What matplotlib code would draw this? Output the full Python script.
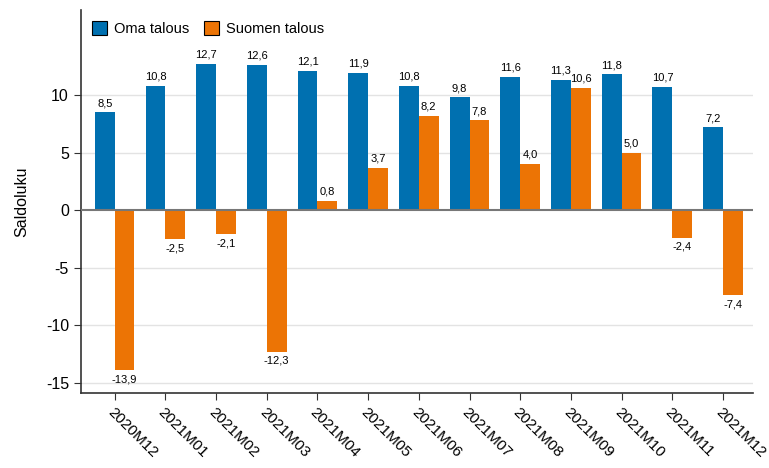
import matplotlib.pyplot as plt
import numpy as np

plt.rcParams['font.family'] = ['Liberation Sans', 'DejaVu Sans']
plt.rcParams['axes.unicode_minus'] = False

months = ['2020M12', '2021M01', '2021M02', '2021M03', '2021M04', '2021M05', '2021M06',
          '2021M07', '2021M08', '2021M09', '2021M10', '2021M11', '2021M12']
oma_talous = [8.5, 10.8, 12.7, 12.6, 12.1, 11.9, 10.8, 9.8, 11.6, 11.3, 11.8, 10.7, 7.2]
suomen_talous = [-13.9, -2.5, -2.1, -12.3, 0.8, 3.7, 8.2, 7.8, 4.0, 10.6, 5.0, -2.4, -7.4]

blue = '#0070b0'
orange = '#ec7405'

fig = plt.figure(figsize=(7.69, 4.68), dpi=100)
ax = fig.add_axes([0.105, 0.16, 0.874, 0.819])

x = np.arange(len(months))
w = 0.39
b1 = ax.bar(x - w / 2, oma_talous, w, color=blue, label='Oma talous', zorder=3)
b2 = ax.bar(x + w / 2, suomen_talous, w, color=orange, label='Suomen talous', zorder=3)


def fmt(v):
    return f'{v:.1f}'.replace('.', ',')


for bars, vals in [(b1, oma_talous), (b2, suomen_talous)]:
    for bar, v in zip(bars, vals):
        cx = bar.get_x() + bar.get_width() / 2
        if v >= 0:
            ax.annotate(fmt(v), (cx, v), xytext=(0, 3), textcoords='offset points',
                        ha='center', va='bottom', fontsize=8, zorder=4)
        else:
            ax.annotate(fmt(v), (cx, v), xytext=(0, -3), textcoords='offset points',
                        ha='center', va='top', fontsize=8, zorder=4)

ax.set_xlim(-0.67, 12.59)
ax.set_ylim(-15.9, 17.4)
ax.set_yticks([-15, -10, -5, 0, 5, 10])
ax.set_xticks(x)
ax.set_xticklabels(months, rotation=-45, ha='left', va='top', rotation_mode='anchor', fontsize=11)
ax.tick_params(axis='y', labelsize=11.5, length=5, color='#333333')
ax.tick_params(axis='x', length=5, color='#333333', pad=4)

for yv in [-15, -10, -5, 5, 10]:
    ax.axhline(yv, color='#e3e3e3', lw=1, zorder=1)
ax.axhline(0, color='#777777', lw=1.5, zorder=4)

for s in ['top', 'right']:
    ax.spines[s].set_visible(False)
for s in ['left', 'bottom']:
    ax.spines[s].set_color('#333333')
    ax.spines[s].set_linewidth(1.2)

ax.set_ylabel('Saldoluku', fontsize=11.5, labelpad=12)

leg = ax.legend(loc='upper left', ncol=2, frameon=False, fontsize=10.5,
                handlelength=1.0, handleheight=1.0, columnspacing=1.0,
                handletextpad=0.5, borderaxespad=0.4)
for h in leg.legend_handles:
    h.set_edgecolor('black')
    h.set_linewidth(0.8)

fig.savefig('out.png', dpi=100)
